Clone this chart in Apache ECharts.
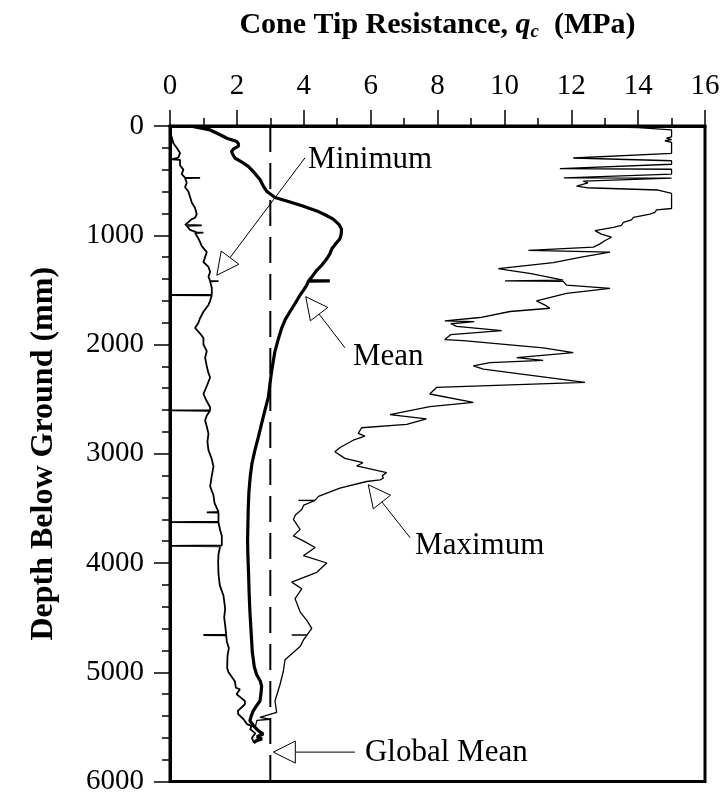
<!DOCTYPE html>
<html>
<head>
<meta charset="utf-8">
<script src="https://cdn.jsdelivr.net/npm/echarts@6/dist/echarts.min.js"></script>
<style>
  html, body { margin: 0; background: #fff; }
  #chart { width: 724px; height: 796px; }
</style>
</head>
<body>
<div id="chart"></div>
<script>
// profiles as [depth (mm), qc (MPa)]
const minProfile = [
  [0, 0.0], [50, 0.0], [100, 0.05], [157, 0.1], [200, 0.2], [248, 0.3], [290, 0.25], [306, 0.05], [310, 0.3],
  [360, 0.3], [399, 0.4], [440, 0.35], [472, 0.45], [474, 0.9], [477, 0.45], [520, 0.5], [560, 0.45],
  [600, 0.55], [650, 0.6], [701, 0.65], [750, 0.75], [807, 0.8], [840, 0.75], [852, 0.65], [880, 0.55],
  [905, 0.45], [910, 0.95], [915, 0.5], [950, 0.6], [973, 0.8], [976, 1.0], [980, 0.75], [1030, 0.85],
  [1063, 0.9], [1100, 0.95], [1154, 1.1], [1200, 1.05], [1245, 1.0], [1290, 1.15], [1335, 1.2],
  [1380, 1.15], [1418, 1.2], [1420, 1.45], [1423, 1.2], [1480, 1.25], [1517, 1.25], [1545, 1.25],
  [1547, 0.0], [1550, 1.25], [1600, 1.2], [1638, 1.15], [1700, 1.0], [1758, 0.9], [1800, 0.85],
  [1849, 0.75], [1900, 0.9], [1940, 1.0], [2000, 1.0], [2060, 1.1], [2121, 1.05], [2200, 1.1],
  [2260, 1.15], [2302, 1.2], [2380, 1.1], [2453, 1.0], [2520, 1.1], [2574, 1.2], [2600, 1.2],
  [2603, 0.0], [2607, 1.2], [2650, 1.1], [2695, 1.05], [2750, 1.1], [2816, 1.15], [2891, 1.12],
  [2967, 1.15], [3050, 1.25], [3118, 1.3], [3200, 1.25], [3299, 1.2], [3380, 1.3], [3450, 1.33],
  [3533, 1.45], [3536, 1.1], [3539, 1.45], [3621, 1.45], [3625, 0.0], [3629, 1.45], [3700, 1.5],
  [3752, 1.55], [3840, 1.55], [3843, 0.0], [3847, 1.5], [3920, 1.45], [3994, 1.44], [4100, 1.45],
  [4205, 1.49], [4300, 1.6], [4417, 1.65], [4500, 1.62], [4568, 1.65], [4655, 1.68], [4659, 1.0],
  [4663, 1.68], [4720, 1.7], [4779, 1.76], [4850, 1.72], [4961, 1.71], [5000, 1.75], [5082, 1.94],
  [5142, 1.97], [5157, 2.09], [5200, 1.99], [5263, 2.24], [5293, 2.24], [5354, 2.03], [5384, 2.04],
  [5430, 2.2], [5474, 2.3], [5490, 2.44], [5520, 2.4], [5560, 2.55], [5600, 2.45], [5640, 2.5]
];

const meanProfile = [
  [0, 0.6], [36, 1.2], [80, 1.5], [112, 1.7], [142, 2.0], [165, 2.05], [187, 2.04], [210, 1.9],
  [233, 1.84], [260, 1.88], [293, 1.94], [330, 2.15], [369, 2.34], [420, 2.5], [489, 2.69], [550, 2.79],
  [600, 2.9], [655, 3.14], [686, 3.49], [730, 3.95], [777, 4.39], [815, 4.65], [852, 4.88], [900, 5.05],
  [943, 5.13], [990, 5.12], [1033, 5.08], [1080, 4.95], [1124, 4.84], [1170, 4.78], [1215, 4.69],
  [1270, 4.55], [1321, 4.39], [1390, 4.22], [1415, 4.15], [1417, 4.78], [1420, 4.14], [1457, 4.09],
  [1500, 4.0], [1547, 3.89], [1620, 3.75], [1698, 3.59], [1770, 3.45], [1849, 3.34], [1950, 3.24],
  [2060, 3.14], [2150, 3.09], [2242, 3.04], [2360, 2.99], [2484, 2.94], [2600, 2.84], [2725, 2.74],
  [2850, 2.64], [2967, 2.54], [3090, 2.45], [3208, 2.4], [3350, 2.36], [3500, 2.34], [3650, 2.33],
  [3800, 2.32], [3933, 2.33], [4100, 2.35], [4300, 2.37], [4447, 2.39], [4600, 2.42], [4810, 2.46],
  [4950, 2.52], [5021, 2.59], [5080, 2.7], [5127, 2.74], [5200, 2.72], [5263, 2.69], [5310, 2.58],
  [5354, 2.49], [5400, 2.43], [5445, 2.39], [5490, 2.5], [5535, 2.64], [5565, 2.79], [5590, 2.6],
  [5610, 2.75], [5626, 2.59], [5645, 2.5]
];

const maxProfile = [
  [0, 12.0], [15, 14.0], [36, 15.0], [100, 15.0], [110, 14.85], [125, 15.0], [135, 14.8], [150, 15.0],
  [250, 15.0], [293, 12.06], [318, 15.0], [350, 15.0], [390, 11.66], [396, 15.0], [440, 15.0],
  [474, 11.78], [478, 15.0], [490, 15.0], [505, 12.36], [520, 12.5], [550, 12.16], [565, 12.46],
  [586, 14.6], [616, 15.0], [755, 15.0], [767, 14.55], [790, 14.5], [807, 14.35], [837, 13.86],
  [860, 13.8], [882, 13.56], [910, 13.5], [927, 13.26], [958, 12.71], [990, 12.9], [1018, 13.2],
  [1050, 13.0], [1079, 12.86], [1109, 12.66], [1139, 10.72], [1154, 13.16], [1200, 12.3],
  [1251, 11.46], [1305, 9.82], [1320, 10.1], [1351, 10.8], [1411, 11.76], [1418, 10.02], [1422, 11.76],
  [1457, 11.86], [1487, 13.16], [1532, 11.86], [1601, 10.96], [1647, 11.26], [1668, 11.36],
  [1698, 10.17], [1713, 10.17], [1753, 9.27], [1783, 8.22], [1790, 9.1], [1810, 8.4], [1834, 8.57],
  [1873, 9.92], [1909, 8.4], [1955, 8.22], [1965, 8.77], [2030, 11.16], [2075, 12.06], [2121, 10.37],
  [2145, 11.16], [2166, 9.57], [2196, 9.07], [2226, 9.37], [2347, 12.41], [2393, 7.97], [2453, 7.77],
  [2529, 9.07], [2568, 7.77], [2641, 6.58], [2680, 7.67], [2732, 7.08], [2762, 5.73], [2814, 5.63],
  [2839, 5.83], [2876, 5.48], [2940, 5.1], [2982, 4.93], [3042, 5.23], [3082, 5.77], [3112, 5.58],
  [3172, 6.48], [3200, 6.35], [3224, 6.38], [3239, 6.28], [3254, 5.88], [3314, 5.08], [3390, 4.44],
  [3424, 4.34], [3426, 3.84], [3428, 4.34], [3470, 4.0], [3511, 3.94], [3560, 3.75], [3601, 3.69],
  [3692, 3.89], [3752, 3.69], [3800, 4.0], [3858, 4.34], [3933, 3.99], [4000, 4.69], [4085, 4.39],
  [4175, 3.64], [4236, 3.94], [4326, 3.74], [4447, 3.89], [4530, 4.1], [4598, 4.24], [4657, 4.1],
  [4659, 3.64], [4661, 4.1], [4700, 4.0], [4765, 3.89], [4885, 3.44], [4991, 3.39], [5112, 3.29],
  [5263, 3.14], [5368, 3.19], [5414, 2.69], [5430, 3.0], [5440, 2.6], [5500, 2.55], [5560, 2.7],
  [5620, 2.6], [5645, 2.5]
];

const globalMean = 3.0;

// annotations: [qc, depth] for line tail, arrow tip and label anchor
const annoLabels = ['Minimum', 'Mean', 'Maximum', 'Global Mean'];
const annoTail = [[4.04, 290], [5.23, 2030], [7.18, 3768], [5.53, 5731]];
const annoTip = [[1.40, 1366], [4.06, 1562], [5.93, 3284], [3.09, 5731]];
const annoText = [[4.13, 308], [5.47, 2112], [7.33, 3843], [5.83, 5737]];

const font = 'Liberation Serif, Times New Roman, serif';
const toXY = p => [p[1], p[0]];

const chart = echarts.init(document.getElementById('chart'));

function renderArrow(params, api) {
  const tail = api.coord([api.value(0), api.value(1)]);
  const tip = api.coord([api.value(2), api.value(3)]);
  const txt = api.coord([api.value(4), api.value(5)]);
  const dx = tip[0] - tail[0], dy = tip[1] - tail[1];
  const len = Math.sqrt(dx * dx + dy * dy);
  const ux = dx / len, uy = dy / len;
  const L = 22, W = 11;
  const bx = tip[0] - ux * L, by = tip[1] - uy * L;
  return {
    type: 'group',
    children: [
      { type: 'line', shape: { x1: tail[0], y1: tail[1], x2: bx, y2: by },
        style: { stroke: '#000', lineWidth: 1 } },
      { type: 'polygon',
        shape: { points: [tip, [bx - uy * W, by + ux * W], [bx + uy * W, by - ux * W]] },
        style: { fill: '#fff', stroke: '#000', lineWidth: 1 } },
      { type: 'text', x: txt[0], y: txt[1],
        style: { text: annoLabels[params.dataIndex], fill: '#000', font: '31px ' + font,
                 align: 'left', verticalAlign: 'middle' } }
    ]
  };
}

const option = {
  animation: false,
  grid: {
    left: 170, right: 19, top: 126, bottom: 8,
    show: true, borderColor: '#000', borderWidth: 3, backgroundColor: 'transparent'
  },
  xAxis: {
    type: 'value', position: 'top', min: 0, max: 16, interval: 2,
    name: 'Cone Tip Resistance, {q|q}{c|c}  (MPa)',
    nameLocation: 'middle', nameGap: 84,
    nameTextStyle: {
      fontFamily: font, fontWeight: 'bold', fontSize: 30, color: '#000',
      rich: {
        q: { fontFamily: font, fontWeight: 'bold', fontStyle: 'italic', fontSize: 30, color: '#000' },
        c: { fontFamily: font, fontWeight: 'bold', fontStyle: 'italic', fontSize: 19, color: '#000',
             padding: [14, 0, 0, 0] }
      }
    },
    axisLine: { show: true, lineStyle: { color: '#000', width: 3 } },
    axisTick: { show: true, length: 16, lineStyle: { color: '#000', width: 1.5 } },
    minorTick: { show: true, splitNumber: 2, length: 8, lineStyle: { color: '#000', width: 1.5 } },
    axisLabel: { fontFamily: font, fontSize: 29, color: '#000', margin: 25 },
    splitLine: { show: false }
  },
  yAxis: {
    type: 'value', inverse: true, min: 0, max: 6000, interval: 1000,
    name: 'Depth Below Ground (mm)',
    nameLocation: 'middle', nameGap: 110, nameRotate: 90,
    nameTextStyle: { fontFamily: font, fontWeight: 'bold', fontSize: 32, color: '#000' },
    axisLine: { show: true, lineStyle: { color: '#000', width: 3 } },
    axisTick: { show: true, length: 16, lineStyle: { color: '#000', width: 1.5 } },
    minorTick: { show: true, splitNumber: 5, length: 8, lineStyle: { color: '#000', width: 1.5 } },
    axisLabel: { fontFamily: font, fontSize: 29, color: '#000', margin: 26, formatter: v => String(v) },
    splitLine: { show: false }
  },
  series: [
    {
      name: 'Global Mean', type: 'line', showSymbol: false, silent: true,
      data: [[globalMean, 0], [globalMean, 6000]],
      lineStyle: { color: '#000', width: 2, type: [26, 11] }
    },
    {
      name: 'Minimum', type: 'line', showSymbol: false,
      data: minProfile.map(toXY),
      lineStyle: { color: '#000', width: 1.8 }
    },
    {
      name: 'Maximum', type: 'line', showSymbol: false,
      data: maxProfile.map(toXY),
      lineStyle: { color: '#000', width: 1.3 }
    },
    {
      name: 'Mean', type: 'line', showSymbol: false,
      data: meanProfile.map(toXY),
      lineStyle: { color: '#000', width: 3.2 }
    },
    {
      type: 'custom', renderItem: renderArrow, clip: false, silent: true,
      encode: { x: [0, 2, 4], y: [1, 3, 5] },
      data: annoLabels.map((l, i) => [...annoTail[i], ...annoTip[i], ...annoText[i]])
    }
  ]
};

chart.setOption(option);
</script>
</body>
</html>
